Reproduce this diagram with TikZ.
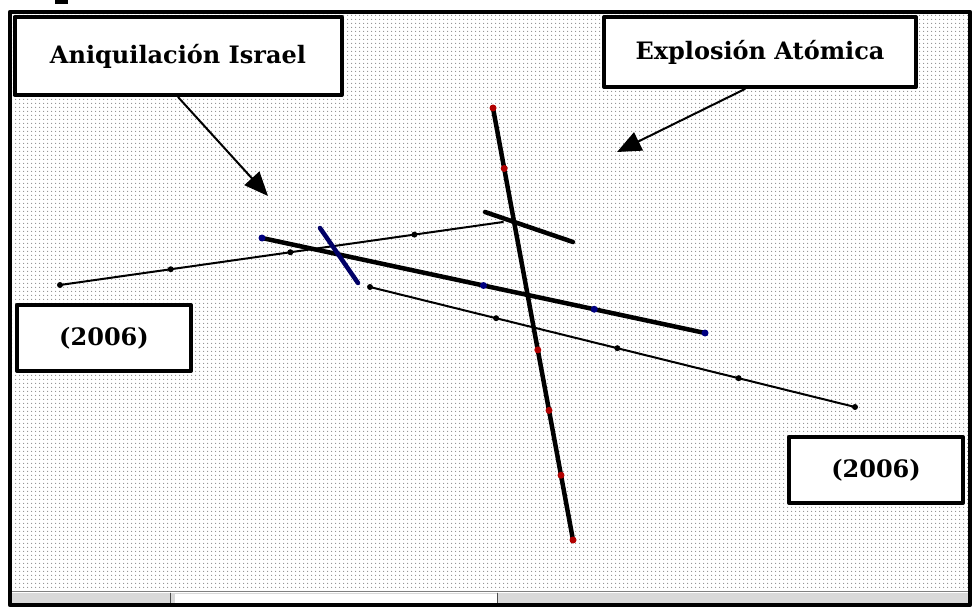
\documentclass[tikz,border=0pt]{standalone}
\usepackage{fontspec}
\setmainfont{DejaVu Serif}
\usetikzlibrary{arrows.meta,patterns.meta,calc}
\begin{document}
\begin{tikzpicture}[x=1pt, y=-1pt, line join=round, line cap=round,
	caja/.style={draw, fill=white, line width=4pt, inner sep=0pt, font=\bfseries\fontsize{24}{28}\selectfont},
	flecha/.style={line width=2pt, -{Triangle[length=24pt,width=20pt]}},
	fina/.style={line width=2pt},
	gruesa/.style={line width=4.5pt}]
	\useasboundingbox (0,0) rectangle (972,607);
	\fill[white] (0,0) rectangle (972,607);
	\fill (55,0) rectangle (68,4);
	% fondo punteado
	\fill[pattern={Dots[distance=4pt, radius=0.75pt]}, pattern color=black!45] (12,14) rectangle (968,588);
	% barra inferior
	\draw[gray, line width=1pt] (12,591) -- (968,591);
	\fill[gray!30] (12,593) rectangle (968,603);
	\fill[white] (175,594) rectangle (497,603);
	\draw[gray!60!black] (170,593) -- (170,603);
	\draw[gray!60!black] (497,593) -- (497,603);
	\draw[line width=4.5pt] (10,12) rectangle (970,605);
	% rectas
	\coordinate (a1) at (60,285);
	\coordinate (a2) at (503,222);
	\coordinate (b1) at (262,238);
	\coordinate (b2) at (705,333);
	\coordinate (c1) at (370,287);
	\coordinate (c2) at (855,407);
	\coordinate (d1) at (320,228);
	\coordinate (d2) at (358,283);
	\coordinate (e1) at (493,108);
	\coordinate (e2) at (573,540);
	\coordinate (f1) at (485,212);
	\coordinate (f2) at (573,242);
	\draw[fina] (a1) -- (a2);
	\draw[fina] (c1) -- (c2);
	\draw[gruesa] (b1) -- (b2);
	\draw[gruesa, blue!40!black] (d1) -- (d2);
	\draw[gruesa] (e1) -- (e2);
	\draw[gruesa] (f1) -- (f2);
	\foreach \t in {0,0.25,0.52,0.8} \fill ($(a1)!\t!(a2)$) circle (3pt);
	\foreach \t in {0,0.26,0.51,0.76,1} \fill ($(c1)!\t!(c2)$) circle (3pt);
	\foreach \t in {0,0.5,0.75,1} \fill[blue!50!black] ($(b1)!\t!(b2)$) circle (3.5pt);
	\foreach \t in {0,0.14,0.56,0.7,0.85,1} \fill[red!70!black] ($(e1)!\t!(e2)$) circle (3.5pt);
	% rotulos
	\node[caja, minimum width=327pt, minimum height=78pt] (israel) at (178,56) {Aniquilación Israel};
	\node[caja, minimum width=312pt, minimum height=70pt] (explosion) at (760,52) {Explosión Atómica};
	\node[caja, minimum width=174pt, minimum height=66pt] (anioA) at (104,338) {(2006)};
	\node[caja, minimum width=174pt, minimum height=66pt] (anioB) at (876,470) {(2006)};
	\coordinate (golpe1) at (268,196);
	\coordinate (golpe2) at (617,152);
	\draw[flecha] (israel.south) -- (golpe1);
	\draw[flecha] ([xshift=-15pt]explosion.south) -- (golpe2);
\end{tikzpicture}
\end{document}
